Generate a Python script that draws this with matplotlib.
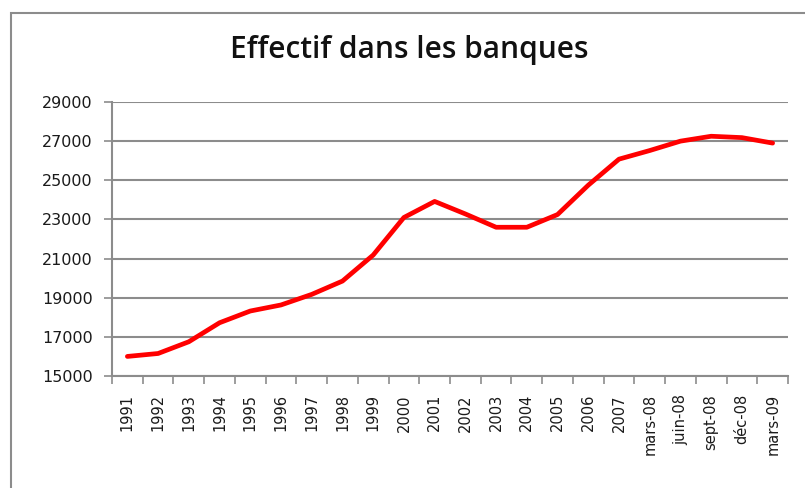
# -*- coding: utf-8 -*-
import numpy as np
import matplotlib
matplotlib.use('Agg')
import matplotlib.pyplot as plt
from matplotlib.ticker import FixedLocator
from matplotlib.patches import Rectangle

# --- data ---
labels = ['1991', '1992', '1993', '1994', '1995', '1996', '1997', '1998', '1999',
          '2000', '2001', '2002', '2003', '2004', '2005', '2006', '2007',
          'mars-08', 'juin-08', 'sept-08', 'déc-08', 'mars-09']
effectif = [16000, 16150, 16750, 17720, 18320, 18630, 19170, 19850, 21180,
            23100, 23920, 23280, 22600, 22600, 23250, 24750, 26080,
            26520, 27000, 27250, 27180, 26900]
yticks = [15000, 17000, 19000, 21000, 23000, 25000, 27000, 29000]

plt.rcParams['font.family'] = ['DejaVu Sans']

fig = plt.figure(figsize=(8.05, 4.88), dpi=100)
ax = fig.add_axes([112/805, 1-376/488, (788-112)/805, (376-102)/488])

# chart frame (runs off the right / bottom edge)
fig.patches.append(Rectangle((10.5/805, -0.1), 1.2, 1 - 13.5/488 + 0.1,
                             transform=fig.transFigure, fill=False,
                             edgecolor='#8c8c8c', linewidth=1.5, zorder=0))

x = np.arange(len(labels))
ax.plot(x, effectif, color='#ff0000', linewidth=3.4, solid_capstyle='round',
        solid_joinstyle='round', zorder=3)

ax.set_xlim(-0.5, len(labels) - 0.5)
ax.set_ylim(15000, 29000)

# y axis
ax.set_yticks(yticks)
ax.set_yticklabels([str(v) for v in yticks], fontsize=11.5, color='#1a1a1a')
ax.yaxis.grid(True, color='#8c8c8c', linewidth=1.5)
ax.set_axisbelow(True)
ax.tick_params(axis='y', length=6, width=1.2, color='#8c8c8c', pad=8)

# x axis: labels at centres, ticks at category boundaries
ax.xaxis.set_major_locator(FixedLocator(x))
ax.set_xticklabels(labels, rotation=90, fontsize=10.5, color='#1a1a1a')
ax.xaxis.set_minor_locator(FixedLocator(np.arange(len(labels) + 1) - 0.5))
ax.tick_params(axis='x', which='major', length=0, pad=13)
ax.tick_params(axis='x', which='minor', length=6, width=1.2, color='#8c8c8c')

for s in ['top', 'right']:
    ax.spines[s].set_visible(False)
for s in ['left', 'bottom']:
    ax.spines[s].set_color('#8c8c8c')
    ax.spines[s].set_linewidth(1.5)

fig.text(409/805, 1-50/488, 'Effectif dans les banques', ha='center', va='center',
         fontsize=21.5, fontweight='semibold', family=['Open Sans', 'DejaVu Sans'],
         color='#111111')

fig.savefig('out.png', dpi=100)
